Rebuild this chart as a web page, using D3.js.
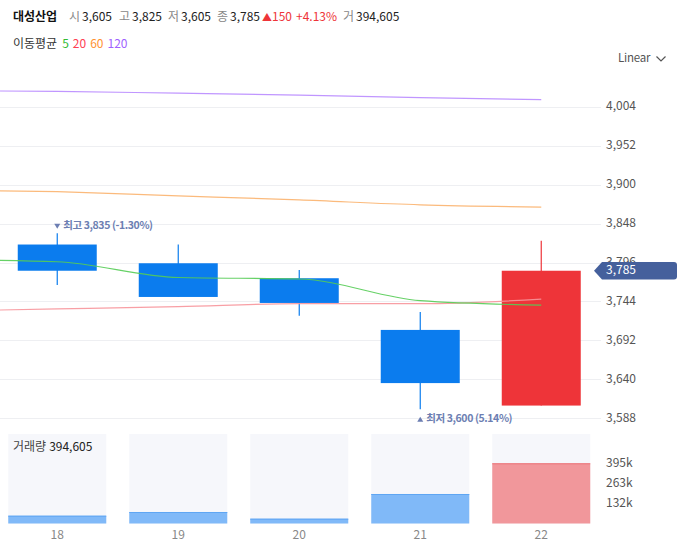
<!DOCTYPE html>
<html>
<head>
<meta charset="utf-8">
<script src="https://cdn.jsdelivr.net/npm/d3@7"></script>
<style>
  html, body { margin: 0; padding: 0; background: #fff; }
  svg { display: block; font-family: "Noto Sans CJK KR", "Noto Sans", sans-serif; }
</style>
</head>
<body>
<svg id="chart" width="685" height="560"></svg>
<script>
// ---- data ----
const stockName = "대성산업";
const days = ["18", "19", "20", "21", "22"];
const open = [3820, 3795, 3775, 3706, 3605];
const high = [3835, 3820, 3786, 3730, 3825];
const low = [3766, 3750, 3725, 3600, 3605];
const close = [3785, 3750, 3742, 3635, 3785];
const volume = [51100, 75400, 31500, 193400, 394605];
// moving averages; first value = previous session (off-screen on the left)
const maPeriods = ["5", "20", "60", "120"];
const ma5 = [3800, 3797, 3776, 3774, 3745, 3739];
const ma20 = [3731, 3734, 3737, 3741, 3741, 3747];
const ma60 = [3893, 3890.5, 3885, 3879.5, 3873, 3870];
const ma120 = [4025.5, 4024.5, 4022, 4019.5, 4016, 4013.5];
const priceTicks = [3588, 3640, 3692, 3744, 3796, 3848, 3900, 3952, 4004];
const volumeTicks = [131535, 263070, 394605];

// ---- styles ----
const UP = "#ee3439", DOWN = "#0b7cee";
const UP_VOL = "#f1979b", DOWN_VOL = "#80b9f8";
const UP_VOL_EDGE = "#ec7479", DOWN_VOL_EDGE = "#5fa6f3";
const maLineColors = ["#55cc55", "#f7959b", "#fbb36e", "#b98bff"];
const maLegendColors = ["#33bb33", "#ff4052", "#ff9233", "#a062ff"];
const fmt = d3.format(",");

const svg = d3.select("#chart");

// ---- scales ----
const x = d3.scaleLinear().domain([0, days.length - 1]).range([57.25, 541.25]);
const y = d3.scaleLinear().domain([3588, 4004]).range([418.3, 106.7]);
const yv = d3.scaleLinear().domain([0, 394605]).range([523.5, 463.3]);
const candleW = 79, volW = 98, gridRight = 601;

// ---- header ----
const last = days.length - 1;
const chg = close[last] - close[last - 1];
const pct = (chg / close[last - 1] * 100).toFixed(2);
const hdr = svg.append("text").attr("y", 21).attr("font-size", 12);
hdr.append("tspan").attr("x", 13).attr("font-weight", "bold").attr("fill", "#111").text(stockName);
const items = [["시", open[last], 69], ["고", high[last], 119], ["저", low[last], 168], ["종", close[last], 217]];
items.forEach(([lab, v, px]) => {
  hdr.append("tspan").attr("x", px).attr("fill", "#888").text(lab);
  hdr.append("tspan").attr("dx", 2).attr("fill", "#222").text(fmt(v));
});
hdr.append("tspan").attr("x", 262).attr("fill", UP).attr("font-size", 10).text("▲");
hdr.append("tspan").attr("x", 272).attr("fill", UP).text(fmt(chg));
hdr.append("tspan").attr("x", 296).attr("fill", UP).text("+" + pct + "%");
hdr.append("tspan").attr("x", 343).attr("fill", "#888").text("거");
hdr.append("tspan").attr("dx", 2).attr("fill", "#222").text(fmt(volume[last]));

const leg = svg.append("text").attr("y", 48).attr("font-size", 12);
leg.append("tspan").attr("x", 13).attr("fill", "#333").text("이동평균");
maPeriods.forEach((p, i) => {
  leg.append("tspan").attr("dx", i === 0 ? 5 : 4).attr("fill", maLegendColors[i]).text(p);
});

// Linear dropdown
svg.append("text").attr("x", 618).attr("y", 59).attr("dominant-baseline", "middle")
  .attr("font-size", 11.5).attr("letter-spacing", -0.2).attr("fill", "#555").text("Linear");
svg.append("path").attr("d", "M656.5,56.5 L661,61 L665.5,56.5").attr("fill", "none")
  .attr("stroke", "#555").attr("stroke-width", 1.2);

// ---- price grid & axis ----
svg.append("g").selectAll("line").data(priceTicks).join("line")
  .attr("x1", 0).attr("x2", gridRight)
  .attr("y1", d => Math.round(y(d)) + 0.5).attr("y2", d => Math.round(y(d)) + 0.5)
  .attr("stroke", "#eeeff2");
svg.append("g").selectAll("text").data(priceTicks).join("text")
  .attr("x", 606).attr("y", d => y(d)).attr("dominant-baseline", "middle")
  .attr("font-size", 12).attr("fill", "#555").text(d => fmt(d));

// ---- candles ----
const cg = svg.append("g");
days.forEach((d, i) => {
  const col = close[i] >= open[i] ? UP : DOWN;
  cg.append("line").attr("x1", x(i)).attr("x2", x(i))
    .attr("y1", y(high[i])).attr("y2", y(low[i])).attr("stroke", col).attr("stroke-width", 1.2);
  const top = y(Math.max(open[i], close[i])), bot = y(Math.min(open[i], close[i]));
  cg.append("rect").attr("x", x(i) - candleW / 2).attr("width", candleW)
    .attr("y", top).attr("height", Math.max(1, bot - top)).attr("fill", col);
});

// ---- moving average lines ----
const line = d3.line().x((d, i) => x(i - 1)).y(d => y(d)).curve(d3.curveMonotoneX);
[ma120, ma60, ma20, ma5].forEach((arr, k) => {
  const ci = 3 - k;
  svg.append("path").attr("d", line(arr)).attr("fill", "none")
    .attr("stroke", maLineColors[ci]).attr("stroke-width", 1.2).attr("stroke-opacity", 0.9);
});

// ---- high / low annotations ----
const hiIdx = d3.maxIndex(high), loIdx = d3.minIndex(low);
const cur = close[last];
const ann = svg.append("g").attr("font-size", 10.5).attr("font-weight", "bold").attr("fill", "#6c7eb2");
{
  const hx = x(hiIdx), hy = y(high[hiIdx]) - 7;
  ann.append("path").attr("d", `M${hx - 3},${hy - 2.5} L${hx + 3},${hy - 2.5} L${hx},${hy + 2.5}Z`);
  ann.append("text").attr("x", hx + 6).attr("y", hy).attr("dominant-baseline", "middle")
    .attr("letter-spacing", -0.4)
    .text(`최고 ${fmt(high[hiIdx])} (${((cur - high[hiIdx]) / high[hiIdx] * 100).toFixed(2)}%)`);
  const lx = x(loIdx), ly = y(low[loIdx]) + 10;
  ann.append("path").attr("d", `M${lx - 3},${ly + 2.5} L${lx + 3},${ly + 2.5} L${lx},${ly - 2.5}Z`);
  ann.append("text").attr("x", lx + 6).attr("y", ly).attr("dominant-baseline", "middle")
    .attr("letter-spacing", -0.4)
    .text(`최저 ${fmt(low[loIdx])} (${((cur - low[loIdx]) / low[loIdx] * 100).toFixed(2)}%)`);
}

// ---- current price tag ----
{
  const ty = y(cur);
  const h = 8.8;
  svg.append("path")
    .attr("d", `M594,${ty} L602,${ty - h} L674,${ty - h} Q677,${ty - h} 677,${ty - h + 3} L677,${ty + h - 3} Q677,${ty + h} 674,${ty + h} L602,${ty + h} Z`)
    .attr("fill", "#45609c");
  svg.append("text").attr("x", 606).attr("y", ty).attr("dominant-baseline", "middle")
    .attr("font-size", 12).attr("fill", "#fff").text(fmt(cur));
}

// ---- volume panel ----
const vg = svg.append("g");
days.forEach((d, i) => {
  vg.append("rect").attr("x", x(i) - volW / 2).attr("width", volW)
    .attr("y", 434).attr("height", yv(0) - 434).attr("fill", "#f6f7fb");
});
days.forEach((d, i) => {
  const up = close[i] >= open[i];
  vg.append("rect").attr("x", x(i) - volW / 2).attr("width", volW)
    .attr("y", yv(volume[i])).attr("height", yv(0) - yv(volume[i]))
    .attr("fill", up ? UP_VOL : DOWN_VOL);
  vg.append("line").attr("x1", x(i) - volW / 2).attr("x2", x(i) + volW / 2)
    .attr("y1", yv(volume[i]) + 0.5).attr("y2", yv(volume[i]) + 0.5)
    .attr("stroke", up ? UP_VOL_EDGE : DOWN_VOL_EDGE);
});
const vt = svg.append("text").attr("x", 13).attr("y", 448).attr("dominant-baseline", "middle").attr("font-size", 12);
vt.append("tspan").attr("fill", "#444").text("거래량");
vt.append("tspan").attr("dx", 3).attr("fill", "#222").text(fmt(volume[last]));

svg.append("g").selectAll("text").data(volumeTicks).join("text")
  .attr("x", 606).attr("y", d => yv(d)).attr("dominant-baseline", "middle")
  .attr("font-size", 12).attr("fill", "#555").text(d => Math.round(d / 1000) + "k");

// ---- x axis labels ----
svg.append("g").selectAll("text").data(days).join("text")
  .attr("x", (d, i) => x(i)).attr("y", 536).attr("text-anchor", "middle")
  .attr("dominant-baseline", "middle").attr("font-size", 12).attr("fill", "#888").text(d => d);
</script>
</body>
</html>
